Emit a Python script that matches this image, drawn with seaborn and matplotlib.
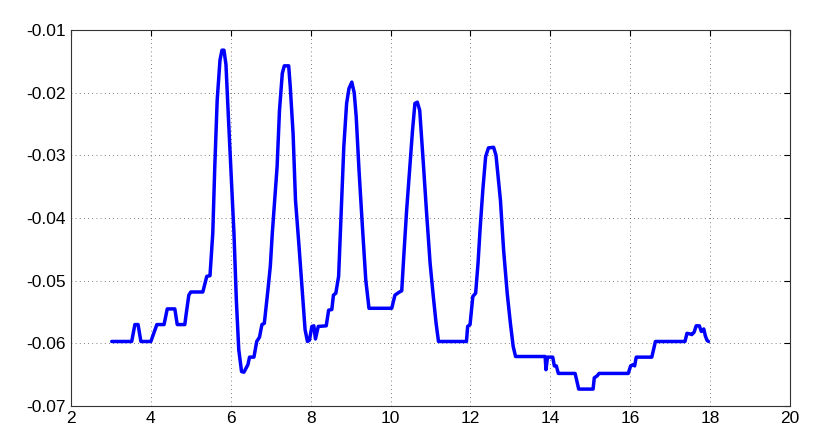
import numpy as np
import pandas as pd
import seaborn as sns
import matplotlib
matplotlib.use('Agg')
import matplotlib.pyplot as plt

# values
x_vals = [3.02, 3.52, 3.6, 3.68, 3.75, 4.0, 4.15, 4.33, 4.41, 4.6, 4.66, 4.85, 4.88, 4.95, 5.0,
          5.3, 5.4, 5.48, 5.55, 5.6, 5.66, 5.73, 5.78, 5.83, 5.88, 5.94, 6.02, 6.08, 6.14, 6.2,
          6.27, 6.33, 6.43, 6.47, 6.58, 6.65, 6.72, 6.78, 6.84, 6.93, 6.99, 7.04, 7.1, 7.16,
          7.22, 7.29, 7.34, 7.45, 7.49, 7.56, 7.62, 7.71, 7.8, 7.86, 7.92, 7.97, 8.03, 8.08,
          8.12, 8.19, 8.39, 8.45, 8.53, 8.57, 8.63, 8.7, 8.73, 8.78, 8.83, 8.9, 8.96, 9.03,
          9.09, 9.14, 9.21, 9.29, 9.38, 9.46, 10.03, 10.11, 10.2, 10.28, 10.33, 10.4, 10.47,
          10.55, 10.61, 10.67, 10.73, 10.82, 10.9, 10.99, 11.07, 11.14, 11.2, 11.9, 11.93,
          11.99, 12.06, 12.13, 12.19, 12.24, 12.31, 12.38, 12.45, 12.58, 12.64, 12.75, 12.83,
          12.92, 13.0, 13.07, 13.13, 13.87, 13.89, 13.93, 14.06, 14.1, 14.15, 14.2, 14.62,
          14.71, 15.07, 15.1, 15.17, 15.22, 15.95, 16.01, 16.07, 16.11, 16.15, 16.54, 16.63,
          17.37, 17.42, 17.5, 17.54, 17.6, 17.65, 17.73, 17.78, 17.84, 17.88, 17.92, 17.96]
y_vals = [-0.0597, -0.0597, -0.0570, -0.0570, -0.0597, -0.0597, -0.0570, -0.0570, -0.0545,
          -0.0545, -0.0570, -0.0570, -0.0555, -0.0523, -0.0518, -0.0518, -0.0493, -0.0492,
          -0.0424, -0.0318, -0.0212, -0.0148, -0.0132, -0.0132, -0.0155, -0.0238, -0.0344,
          -0.0424, -0.0531, -0.0610, -0.0645, -0.0646, -0.0634, -0.0622, -0.0622, -0.0597,
          -0.0590, -0.0570, -0.0568, -0.0515, -0.0477, -0.0424, -0.0371, -0.0318, -0.0228,
          -0.0169, -0.0157, -0.0157, -0.0191, -0.0265, -0.0371, -0.0446, -0.0525, -0.0578,
          -0.0597, -0.0595, -0.0573, -0.0572, -0.0593, -0.0573, -0.0572, -0.0547, -0.0546,
          -0.0523, -0.0520, -0.0493, -0.0446, -0.0366, -0.0286, -0.0217, -0.0193, -0.0183,
          -0.0200, -0.0238, -0.0323, -0.0408, -0.0499, -0.0544, -0.0544, -0.0523, -0.0519,
          -0.0516, -0.0462, -0.0390, -0.0329, -0.0260, -0.0217, -0.0215, -0.0228, -0.0312,
          -0.0390, -0.0472, -0.0525, -0.0568, -0.0597, -0.0597, -0.0573, -0.0570, -0.0525,
          -0.0520, -0.0472, -0.0419, -0.0355, -0.0302, -0.0288, -0.0287, -0.0300, -0.0371,
          -0.0451, -0.0520, -0.0568, -0.0605, -0.0621, -0.0621, -0.0642, -0.0622, -0.0622,
          -0.0636, -0.0636, -0.0648, -0.0648, -0.0673, -0.0673, -0.0655, -0.0652, -0.0648,
          -0.0648, -0.0636, -0.0634, -0.0636, -0.0622, -0.0622, -0.0597, -0.0597, -0.0584,
          -0.0585, -0.0586, -0.0582, -0.0572, -0.0572, -0.0581, -0.0577, -0.0588, -0.0595,
          -0.0597]

df = pd.DataFrame({'x': x_vals, 'y': y_vals})

sns.set_style('white')
plt.rcParams['font.family'] = ['Liberation Sans', 'DejaVu Sans']

fig = plt.figure(figsize=(8.31, 4.43), dpi=100)
ax = fig.add_axes([0.0854, 0.0835, 0.8653, 0.8485])

sns.lineplot(data=df, x='x', y='y', sort=False, color='#0000ff', linewidth=2.5, ax=ax)

ax.set_xlim(2, 20)
ax.set_ylim(-0.07, -0.01)
ax.set_xticks(np.arange(2, 21, 2))
ax.set_yticks([-0.07, -0.06, -0.05, -0.04, -0.03, -0.02, -0.01])
ax.set_yticklabels(['-0.07', '-0.06', '-0.05', '-0.04', '-0.03', '-0.02', '-0.01'])
ax.set_xlabel('')
ax.set_ylabel('')
ax.grid(True, linestyle=(0, (1, 4)), color='#555555', linewidth=0.6)
ax.tick_params(direction='in', top=True, right=True, length=4, labelsize=12.5, colors='black')
for s in ax.spines.values():
    s.set_visible(True)
    s.set_color('#333333')
    s.set_linewidth(0.8)

fig.savefig('out.png', dpi=100)
